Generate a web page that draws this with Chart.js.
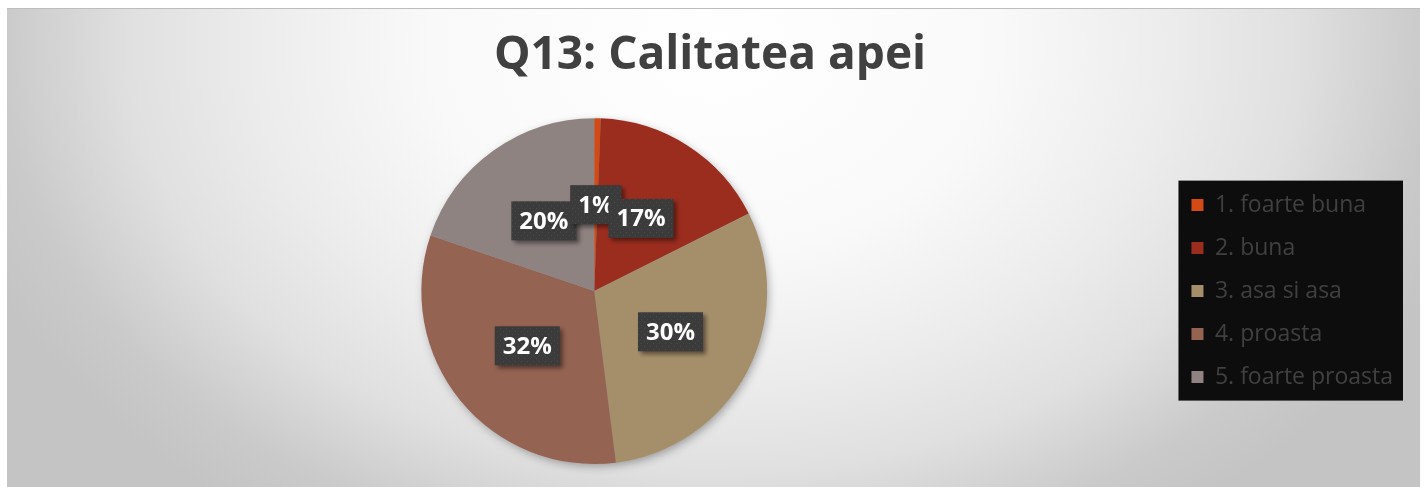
<!DOCTYPE html>
<html>
<head>
<meta charset="utf-8">
<script src="https://cdn.jsdelivr.net/npm/chart.js@4.4.0/dist/chart.umd.min.js"></script>
<style>
  html, body { margin: 0; padding: 0; background: #fff; }
  #wrap {
    position: absolute; left: 7px; top: 8px; width: 1413px; height: 479px;
    background: radial-gradient(ellipse 56% 120% at 50% 8%, #ffffff 0%, #f9f9f9 36%, #ececec 58%, #e0e0e0 74%, #cacaca 90%, #c4c4c4 100%);
    border-top: 1px solid #bdbdbd;
  }
</style>
</head>
<body>
<div id="wrap"><canvas id="grafico"></canvas></div>
<script>
const categorias = ["1. foarte buna", "2. buna", "3. asa si asa", "4. proasta", "5. foarte proasta"];
const procente = [0.6, 17.0, 30.4, 32.2, 19.8];
const etichete = ["1%", "17%", "30%", "32%", "20%"];
const culori = ["#d24a16", "#9b2d1f", "#a58f6b", "#946352", "#8f8381"];
const ordineEtichete = [4, 0, 1, 2, 3];

// model punctat pentru casetele etichetelor
function creeazaModel(ctx) {
    const c = document.createElement("canvas");
    c.width = 6; c.height = 6;
    const p = c.getContext("2d");
    p.fillStyle = "#3b3b3b";
    p.fillRect(0, 0, 6, 6);
    p.fillStyle = "#4a4a4a";
    p.fillRect(1, 1, 1, 1);
    p.fillRect(4, 4, 1, 1);
    return ctx.createPattern(c, "repeat");
}

const umbraPlacinta = {
    id: "umbraPlacinta",
    beforeDatasetsDraw(chart) {
        const arc = chart.getDatasetMeta(0).data[0];
        if (!arc) return;
        const ctx = chart.ctx;
        ctx.save();
        ctx.shadowColor = "rgba(0,0,0,0.35)";
        ctx.shadowBlur = 10;
        ctx.shadowOffsetX = 2;
        ctx.shadowOffsetY = 3;
        ctx.beginPath();
        ctx.arc(arc.x, arc.y, arc.outerRadius - 1, 0, Math.PI * 2);
        ctx.fillStyle = "#999";
        ctx.fill();
        ctx.restore();
    }
};

const fundalLegenda = {
    id: "fundalLegenda",
    beforeDraw(chart) {
        const boxes = chart.legend && chart.legend.legendHitBoxes;
        if (!boxes || !boxes.length) return;
        const left = Math.min(...boxes.map(b => b.left)) - 13;
        const right = Math.max(...boxes.map(b => b.left + b.width)) + 10;
        const top = boxes[0].top - 13;
        const bottom = boxes[boxes.length - 1].top + boxes[boxes.length - 1].height + 12;
        const ctx = chart.ctx;
        ctx.save();
        ctx.fillStyle = "#0d0d0d";
        ctx.fillRect(left, top, right - left, bottom - top);
        ctx.restore();
    }
};

const eticheteDate = {
    id: "eticheteDate",
    afterDatasetsDraw(chart) {
        const ctx = chart.ctx;
        const meta = chart.getDatasetMeta(0);
        const model = creeazaModel(ctx);
        ctx.save();
        ctx.font = "bold 24px 'Open Sans', sans-serif";
        ordineEtichete.forEach(i => {
            const arc = meta.data[i];
            const pt = arc.getCenterPoint();
            const text = etichete[i];
            const w = ctx.measureText(text).width + 16;
            const h = 39;
            ctx.save();
            ctx.shadowColor = "rgba(0,0,0,0.45)";
            ctx.shadowBlur = 4;
            ctx.shadowOffsetX = 3;
            ctx.shadowOffsetY = 3;
            ctx.fillStyle = model;
            ctx.fillRect(pt.x - w / 2, pt.y - h / 2, w, h);
            ctx.restore();
            ctx.fillStyle = "#ffffff";
            ctx.textAlign = "center";
            ctx.textBaseline = "middle";
            ctx.fillText(text, pt.x, pt.y + 1);
        });
        ctx.restore();
    }
};

new Chart(document.getElementById("grafico").getContext("2d"), {
    type: "pie",
    data: {
        labels: categorias,
        datasets: [{
            data: procente,
            backgroundColor: culori,
            borderWidth: 0
        }]
    },
    options: {
        responsive: true,
        maintainAspectRatio: false,
        animation: false,
        layout: { padding: { top: 0, bottom: 24, left: 10, right: 17 } },
        plugins: {
            title: {
                display: true,
                text: "Q13: Calitatea apei",
                color: "#404040",
                font: { family: "'Open Sans', sans-serif", size: 46, weight: "bold" },
                padding: { top: 19, bottom: 35 }
            },
            legend: {
                position: "right",
                fullSize: false,
                labels: {
                    color: "#404040",
                    boxWidth: 12,
                    boxHeight: 12,
                    padding: 20,
                    font: { family: "'Open Sans', sans-serif", size: 23 }
                }
            },
            tooltip: { enabled: false }
        }
    },
    plugins: [umbraPlacinta, fundalLegenda, eticheteDate]
});
</script>
</body>
</html>
